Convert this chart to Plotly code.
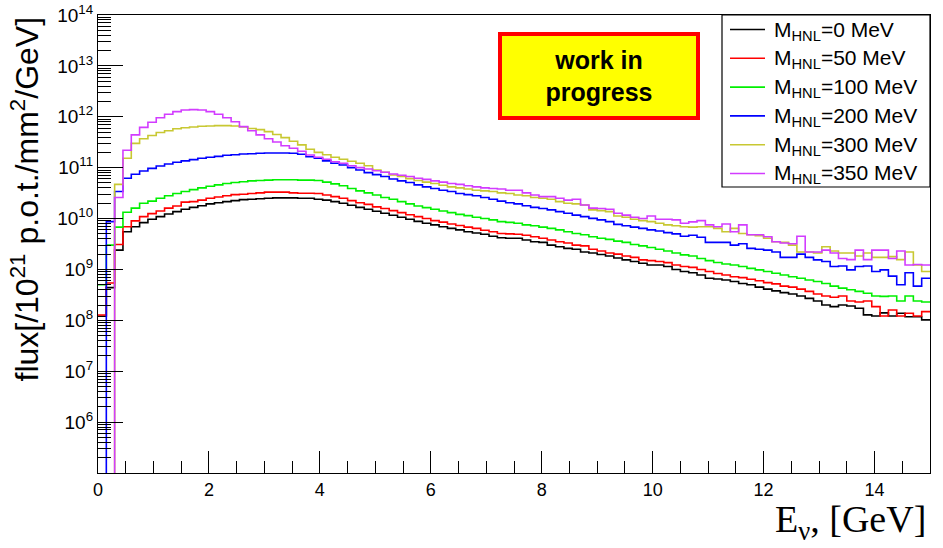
import numpy as np
import plotly.graph_objects as go

# ---------------- data (100 bins of 0.15 GeV from 0 to 15 GeV) ----------------
e_min, e_max, n_bins = 0.0, 15.0, 100

flux_m0 = [1.2e8, 4.4e8, 2.4e9, 5.5e9, 6.9e9, 8.3e9, 9.7e9, 1.09e10, 1.23e10, 1.37e10,
           1.52e10, 1.66e10, 1.79e10, 1.94e10, 2.05e10, 2.15e10, 2.25e10, 2.35e10, 2.4e10, 2.45e10,
           2.5e10, 2.55e10, 2.55e10, 2.55e10, 2.5e10, 2.5e10, 2.4e10, 2.3e10, 2.15e10, 2.0e10,
           1.82e10, 1.66e10, 1.52e10, 1.39e10, 1.27e10, 1.16e10, 1.06e10, 9.7e9, 8.8e9, 8.1e9,
           7.5e9, 6.9e9, 6.4e9, 6.0e9, 5.5e9, 5.2e9, 4.9e9, 4.5e9, 4.2e9, 4.1e9,
           4.1e9, 3.8e9, 3.5e9, 3.4e9, 3.0e9, 2.8e9, 2.6e9, 2.5e9, 2.2e9, 2.1e9,
           1.96e9, 1.84e9, 1.68e9, 1.54e9, 1.43e9, 1.32e9, 1.22e9, 1.22e9, 1.14e9, 1.0e9,
           9.1e8, 8.6e8, 7.8e8, 6.7e8, 6.5e8, 6.2e8, 5.8e8, 5.3e8, 5.0e8, 4.5e8,
           4.1e8, 3.8e8, 3.5e8, 3.3e8, 3.0e8, 2.7e8, 2.4e8, 2.0e8, 1.86e8, 2.0e8,
           1.91e8, 1.73e8, 1.28e8, 1.22e8, 1.4e8, 1.22e8, 1.38e8, 1.18e8, 1.18e8, 1.02e8]

flux_m50 = [1.27e8, 5.4e8, 3.1e9, 6.9e9, 9.0e9, 1.09e10, 1.25e10, 1.41e10, 1.6e10, 1.77e10,
            2.1e10, 2.15e10, 2.3e10, 2.5e10, 2.65e10, 2.8e10, 2.95e10, 3.0e10, 3.1e10, 3.2e10,
            3.3e10, 3.3e10, 3.3e10, 3.2e10, 3.15e10, 3.15e10, 3.1e10, 2.9e10, 2.7e10, 2.5e10,
            2.25e10, 2.05e10, 1.9e10, 1.7e10, 1.58e10, 1.43e10, 1.31e10, 1.19e10, 1.09e10, 1.0e10,
            9.1e9, 8.5e9, 7.8e9, 7.3e9, 6.8e9, 6.4e9, 5.9e9, 5.5e9, 5.1e9, 5.0e9,
            4.9e9, 4.7e9, 4.4e9, 4.1e9, 3.8e9, 3.5e9, 3.3e9, 3.0e9, 2.9e9, 2.5e9,
            2.3e9, 2.1e9, 2.0e9, 1.84e9, 1.73e9, 1.54e9, 1.49e9, 1.43e9, 1.36e9, 1.22e9,
            1.14e9, 1.1e9, 1.0e9, 9.1e8, 8.3e8, 7.8e8, 7.2e8, 6.9e8, 6.4e8, 6.0e8,
            5.5e8, 5.2e8, 4.7e8, 4.5e8, 4.1e8, 3.7e8, 3.3e8, 3.0e8, 2.84e8, 3.0e8,
            2.4e8, 2.3e8, 2.4e8, 1.86e8, 1.22e8, 1.6e8, 1.22e8, 1.38e8, 1.22e8, 1.48e8]

flux_m100 = [5.0e8, 3.0e9, 6.8e9, 1.33e10, 1.6e10, 2.0e10, 2.2e10, 2.5e10, 2.8e10, 3.1e10,
             3.4e10, 3.7e10, 4.0e10, 4.3e10, 4.6e10, 4.9e10, 5.1e10, 5.3e10, 5.5e10, 5.6e10,
             5.7e10, 5.8e10, 5.8e10, 5.8e10, 5.7e10, 5.7e10, 5.6e10, 5.2e10, 4.8e10, 4.4e10,
             3.9e10, 3.5e10, 3.2e10, 2.9e10, 2.6e10, 2.4e10, 2.15e10, 1.94e10, 1.77e10, 1.64e10,
             1.52e10, 1.41e10, 1.31e10, 1.21e10, 1.14e10, 1.06e10, 1.0e10, 9.4e9, 8.7e9, 8.4e9,
             8.1e9, 7.5e9, 7.2e9, 6.8e9, 6.4e9, 6.0e9, 5.5e9, 5.1e9, 4.8e9, 4.4e9,
             4.1e9, 3.9e9, 3.6e9, 3.4e9, 3.1e9, 2.9e9, 2.7e9, 2.5e9, 2.3e9, 2.1e9,
             1.93e9, 1.84e9, 1.64e9, 1.49e9, 1.37e9, 1.28e9, 1.22e9, 1.14e9, 1.05e9, 9.8e8,
             9.1e8, 8.4e8, 7.8e8, 7.2e8, 6.7e8, 6.2e8, 5.8e8, 5.3e8, 4.7e8, 4.3e8,
             4.0e8, 3.7e8, 3.4e8, 3.0e8, 2.95e8, 3.0e8, 2.4e8, 3.0e8, 2.4e8, 2.3e8]

flux_m200 = [0.0, 8.7e9, 3.4e10, 6.2e10, 7.4e10, 8.6e10, 9.7e10, 1.08e11, 1.18e11, 1.28e11,
             1.36e11, 1.44e11, 1.53e11, 1.6e11, 1.67e11, 1.75e11, 1.8e11, 1.86e11, 1.88e11, 1.92e11,
             1.94e11, 1.94e11, 1.94e11, 1.92e11, 1.83e11, 1.64e11, 1.53e11, 1.36e11, 1.22e11, 1.13e11,
             1.0e11, 9.0e10, 8.0e10, 7.3e10, 6.7e10, 6.0e10, 5.5e10, 5.1e10, 4.6e10, 4.2e10,
             3.9e10, 3.6e10, 3.4e10, 3.1e10, 2.95e10, 2.8e10, 2.6e10, 2.4e10, 2.2e10, 2.05e10,
             1.94e10, 1.79e10, 1.66e10, 1.58e10, 1.48e10, 1.37e10, 1.27e10, 1.17e10, 1.09e10, 1.01e10,
             9.4e9, 8.7e9, 7.7e9, 7.2e9, 6.8e9, 6.4e9, 6.0e9, 5.7e9, 5.3e9, 5.0e9,
             4.5e9, 4.7e9, 4.3e9, 3.4e9, 3.4e9, 3.4e9, 3.0e9, 3.2e9, 2.6e9, 2.5e9,
             2.4e9, 2.2e9, 1.73e9, 1.73e9, 2.0e9, 1.73e9, 1.54e9, 1.43e9, 1.14e9, 1.17e9,
             9.8e8, 1.14e9, 1.17e9, 9.1e8, 9.8e8, 7.4e8, 5.0e8, 8.6e8, 4.7e8, 6.7e8]

flux_m300 = [0.0, 0.0, 4.7e10, 1.53e11, 3.0e11, 3.7e11, 4.3e11, 4.9e11, 5.3e11, 5.8e11,
             6.1e11, 6.3e11, 6.5e11, 6.6e11, 6.7e11, 6.7e11, 6.6e11, 6.3e11, 5.9e11, 5.6e11,
             5.1e11, 4.5e11, 3.9e11, 3.3e11, 2.8e11, 2.3e11, 2.0e11, 1.8e11, 1.6e11, 1.46e11,
             1.34e11, 1.22e11, 1.09e11, 9.0e10, 8.1e10, 7.2e10, 6.7e10, 6.1e10, 5.6e10, 5.2e10,
             4.9e10, 4.5e10, 4.2e10, 4.0e10, 3.8e10, 3.6e10, 3.5e10, 3.4e10, 3.2e10, 3.1e10,
             2.9e10, 2.8e10, 2.6e10, 2.5e10, 2.4e10, 2.15e10, 2.0e10, 1.94e10, 1.85e10, 1.48e10,
             1.43e10, 1.37e10, 1.12e10, 1.06e10, 9.7e9, 9.1e9, 8.7e9, 8.1e9, 7.5e9, 7.2e9,
             6.9e9, 6.8e9, 6.9e9, 6.9e9, 6.4e9, 5.5e9, 6.4e9, 5.1e9, 4.8e9, 4.6e9,
             4.1e9, 3.5e9, 3.4e9, 3.0e9, 2.2e9, 2.2e9, 2.1e9, 2.8e9, 2.3e9, 2.1e9,
             2.1e9, 1.84e9, 2.1e9, 1.73e9, 1.73e9, 1.79e9, 1.56e9, 2.2e9, 1.22e9, 9.1e8]

flux_m350 = [0.0, 0.0, 2.6e10, 2.2e11, 4.4e11, 6.2e11, 7.8e11, 9.6e11, 1.12e12, 1.26e12,
             1.36e12, 1.38e12, 1.36e12, 1.26e12, 1.12e12, 9.6e11, 8.0e11, 6.4e11, 5.3e11, 4.4e11,
             3.7e11, 3.2e11, 2.7e11, 2.4e11, 2.1e11, 1.77e11, 1.6e11, 1.46e11, 1.31e11, 1.22e11,
             1.09e11, 1.0e11, 9.4e10, 8.7e10, 8.1e10, 7.5e10, 7.1e10, 6.7e10, 6.2e10, 5.9e10,
             5.5e10, 5.2e10, 4.9e10, 4.7e10, 4.4e10, 4.2e10, 4.0e10, 3.9e10, 3.8e10, 3.6e10,
             3.6e10, 3.2e10, 2.9e10, 2.7e10, 2.7e10, 2.5e10, 2.3e10, 2.4e10, 1.85e10, 1.6e10,
             1.58e10, 1.52e10, 1.27e10, 1.17e10, 1.06e10, 1.0e10, 1.12e10, 9.7e9, 9.7e9, 9.4e9,
             8.1e9, 8.6e9, 9.1e9, 7.5e9, 6.9e9, 7.8e9, 5.5e9, 7.5e9, 4.8e9, 4.8e9,
             4.4e9, 3.5e9, 3.3e9, 3.2e9, 4.5e9, 2.2e9, 2.2e9, 2.4e9, 2.1e9, 1.64e9,
             1.56e9, 2.4e9, 1.56e9, 2.4e9, 2.4e9, 1.64e9, 2.3e9, 1.22e9, 1.25e9, 1.22e9]

series_names = ["M<sub>HNL</sub>=0 MeV", "M<sub>HNL</sub>=50 MeV", "M<sub>HNL</sub>=100 MeV",
                "M<sub>HNL</sub>=200 MeV", "M<sub>HNL</sub>=300 MeV", "M<sub>HNL</sub>=350 MeV"]
series_values = [flux_m0, flux_m50, flux_m100, flux_m200, flux_m300, flux_m350]
series_colors = ["#000000", "#ff0000", "#00f000", "#0000ff", "#c8c832", "#d23cff"]

y_tick_exponents = [6, 7, 8, 9, 10, 11, 12, 13, 14]
x_tick_values = [0, 2, 4, 6, 8, 10, 12, 14]

# ---------------- figure ----------------
FONT = "Liberation Sans, Arial, Helvetica, sans-serif"
W, H = 943, 548
M_L, M_R, M_T, M_B = 98, 13, 15, 75
PW, PH = W - M_L - M_R, H - M_T - M_B


def px_x(p):  # pixel -> paper x
    return (p - M_L) / PW


def px_y(p):  # pixel -> paper y
    return 1 - (p - M_T) / PH


edges = np.linspace(e_min, e_max, n_bins + 1)

fig = go.Figure()
for name, vals, col in zip(series_names, series_values, series_colors):
    v = np.asarray(vals, dtype=float)
    v = np.where(v > 0, v, 1e2)  # empty bins fall off the bottom of the log axis
    yy = np.append(v, v[-1])
    fig.add_trace(go.Scatter(
        x=edges, y=yy, mode="lines", name=name, showlegend=False,
        line=dict(color=col, width=1.6, shape="hv"),
        hoverinfo="skip",
    ))

minor_vals = [k * 10.0 ** n for n in range(5, 14) for k in range(2, 10)]

fig.update_xaxes(
    range=[e_min, e_max], showgrid=False, zeroline=False, automargin=False,
    showline=True, linecolor="black", linewidth=1.2, mirror=True,
    ticks="inside", ticklen=22, tickwidth=1, tickcolor="black",
    tickvals=x_tick_values,
    tickfont=dict(family=FONT, size=18, color="black"),
    minor=dict(ticks="inside", dtick=0.5, ticklen=12, tickcolor="black", tickwidth=1, showgrid=False),
)
fig.update_yaxes(
    type="log", range=[5, 14], showgrid=False, zeroline=False, automargin=False,
    showline=True, linecolor="black", linewidth=1.2, mirror=True,
    ticks="inside", ticklen=25, tickwidth=1, tickcolor="black",
    tickvals=[10.0 ** e for e in y_tick_exponents],
    ticktext=[f"10<sup>{e}</sup>" for e in y_tick_exponents],
    tickfont=dict(family=FONT, size=19, color="black"),
    minor=dict(ticks="inside", tickvals=minor_vals, ticklen=13, tickcolor="black", tickwidth=1, showgrid=False),
)

# ---- legend box (ROOT TLegend style) ----
shapes = [dict(type="rect", xref="paper", yref="paper",
               x0=px_x(722), x1=1.0, y0=px_y(187), y1=1.0,
               line=dict(color="black", width=1.2), fillcolor="white", layer="above")]
annotations = []
for i, (name, col) in enumerate(zip(series_names, series_colors)):
    yc = 29.5 + 28.8 * i
    shapes.append(dict(type="line", xref="paper", yref="paper",
                       x0=px_x(730), x1=px_x(765), y0=px_y(yc), y1=px_y(yc),
                       line=dict(color=col, width=1.6), layer="above"))
    annotations.append(dict(text=name, xref="paper", yref="paper",
                            x=px_x(772), y=px_y(yc + 1), xanchor="left", yanchor="middle",
                            showarrow=False, font=dict(family=FONT, size=21, color="black")))

annotations += [
    dict(text="flux[/10<sup>21</sup> p.o.t./mm<sup>2</sup>/GeV]",
         xref="paper", yref="paper", x=px_x(24), y=1.0,
         xanchor="center", yanchor="top", textangle=-90, showarrow=False,
         font=dict(family=FONT, size=32, color="black")),
    dict(text="E<sub>ν</sub>, [GeV]",
         xref="paper", yref="paper", x=px_x(928), y=px_y(522),
         xanchor="right", yanchor="middle", showarrow=False,
         font=dict(family="Liberation Serif, DejaVu Serif, serif", size=38, color="black")),
    dict(text="<b>work in<br>progress</b>",
         xref="paper", yref="paper", x=px_x(599), y=px_y(76),
         xanchor="center", yanchor="middle", showarrow=False,
         width=188, height=74, align="center",
         bgcolor="#ffff00", bordercolor="#ff0000", borderwidth=4, borderpad=3,
         font=dict(family=FONT, size=25, color="black")),
]

fig.update_layout(
    width=W, height=H,
    margin=dict(l=M_L, r=M_R, t=M_T, b=M_B),
    paper_bgcolor="white", plot_bgcolor="white",
    font=dict(family=FONT, color="black"),
    showlegend=False,
    shapes=shapes,
    annotations=annotations,
)

fig.write_html("out.html")
